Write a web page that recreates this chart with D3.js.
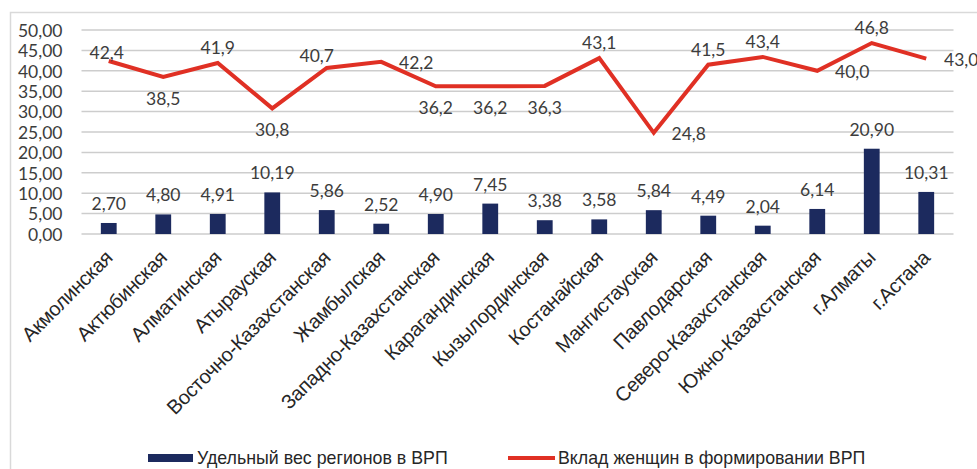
<!DOCTYPE html>
<html><head><meta charset="utf-8">
<script src="https://cdn.jsdelivr.net/npm/d3@7"></script>
<style>
body{margin:0;background:#fff;}
svg{display:block;}
</style></head>
<body>
<svg id="chart" width="977" height="469"></svg>
<script>
const categories = ["Акмолинская","Актюбинская","Алматинская","Атырауская","Восточно-Казахстанская","Жамбылская","Западно-Казахстанская","Карагандинская","Кызылординская","Костанайская","Мангистауская","Павлодарская","Северо-Казахстанская","Южно-Казахстанская","г.Алматы","г.Астана"];
const barValues = [2.70,4.80,4.91,10.19,5.86,2.52,4.90,7.45,3.38,3.58,5.84,4.49,2.04,6.14,20.90,10.31];
const lineValues = [42.4,38.5,41.9,30.8,40.7,42.2,36.2,36.2,36.3,43.1,24.8,41.5,43.4,40.0,46.8,43.0];
const lineLabelPlacement = ["on","below","above","below","aboveLeft","right","below","below","below","above","right","above","above","right","above","right"];
const yTicks = [0,5,10,15,20,25,30,35,40,45,50];
const seriesNames = ["Удельный вес регионов в ВРП","Вклад женщин в формировании ВРП"];

const svg = d3.select("#chart");
const plot = {left:81.5, right:953.5, top:30, bottom:234};
const numFont = "Lato, 'Open Sans', sans-serif";
const txtFont = "'Liberation Sans', Arial, sans-serif";
const textCol = "#3c3c3c";
const barCol = "#1c2a5e";
const lineCol = "#e03024";

svg.append("rect").attr("x",10.5).attr("y",12.5).attr("width",980).attr("height",480)
  .attr("fill","#fff").attr("stroke","#d9d9d9").attr("stroke-width",1.5);

const x = d3.scaleBand().domain(categories).range([plot.left, plot.right]).paddingInner(0.71).paddingOuter(0.355);
const y = d3.scaleLinear().domain([0,50]).range([plot.bottom, plot.top]);
const fmt2 = d => d.toFixed(2).replace(".", ",");
const fmt1 = d => d.toFixed(1).replace(".", ",");

// grid
svg.append("g").selectAll("line").data(yTicks).join("line")
  .attr("x1",plot.left).attr("x2",plot.right)
  .attr("y1",d=>y(d)).attr("y2",d=>y(d))
  .attr("stroke","#cdcdcd").attr("stroke-width",1.5);

// y axis labels
const yAxis = d3.axisLeft(y).tickValues(yTicks).tickFormat(fmt2).tickSize(0).tickPadding(19);
const yg = svg.append("g").attr("transform",`translate(${plot.left},0)`).call(yAxis);
yg.select(".domain").remove();
yg.selectAll("text").attr("font-family",numFont).attr("font-size",17.5).attr("fill",textCol).attr("dy","0.36em");

// bars
svg.append("g").selectAll("rect").data(barValues).join("rect")
  .attr("x",(d,i)=>x(categories[i])).attr("width",x.bandwidth())
  .attr("y",d=>y(d)).attr("height",d=>y(0)-y(d)).attr("fill",barCol);

svg.append("g").selectAll("text").data(barValues).join("text")
  .attr("x",(d,i)=>x(categories[i])+x.bandwidth()/2).attr("y",d=>y(d)-13)
  .attr("text-anchor","middle").attr("font-family",numFont).attr("font-size",17.5).attr("fill",textCol)
  .text(fmt2);

// line
const cx = i => x(categories[i]) + x.bandwidth()/2;
const line = d3.line().x((d,i)=>cx(i)).y(d=>y(d));
svg.append("path").datum(lineValues).attr("d",line).attr("fill","none")
  .attr("stroke",lineCol).attr("stroke-width",4).attr("stroke-linejoin","miter");

const off = {on:[-2,-2], above:[0,-9], aboveLeft:[-10,-6], below:[0,28], right:[35,7]};
svg.append("g").selectAll("text").data(lineValues).join("text")
  .attr("x",(d,i)=>cx(i)+off[lineLabelPlacement[i]][0])
  .attr("y",(d,i)=>y(d)+off[lineLabelPlacement[i]][1])
  .attr("text-anchor","middle").attr("font-family",numFont).attr("font-size",17.5).attr("fill",textCol)
  .text(fmt1);

// x labels
const xAxis = d3.axisBottom(x).tickSize(0).tickPadding(0);
const xg = svg.append("g").attr("transform",`translate(0,${plot.bottom})`).call(xAxis);
xg.select(".domain").remove();
xg.selectAll("text").attr("font-family",txtFont).attr("font-size",20).attr("fill","#262626")
  .attr("text-anchor","end").attr("dy",0).attr("y",0).attr("letter-spacing",-0.3)
  .attr("transform","translate(5,25) rotate(-45)");

// legend
const lg = svg.append("g");
lg.append("rect").attr("x",148).attr("y",454).attr("width",45).attr("height",8).attr("fill",barCol);
lg.append("text").attr("x",197).attr("y",464).attr("font-family",txtFont).attr("font-size",17.8).attr("fill","#262626").text(seriesNames[0]);
lg.append("line").attr("x1",508).attr("x2",555).attr("y1",458).attr("y2",458).attr("stroke",lineCol).attr("stroke-width",4);
lg.append("text").attr("x",558).attr("y",464).attr("font-family",txtFont).attr("font-size",17.8).attr("fill","#262626").text(seriesNames[1]);
</script>
</body></html>
